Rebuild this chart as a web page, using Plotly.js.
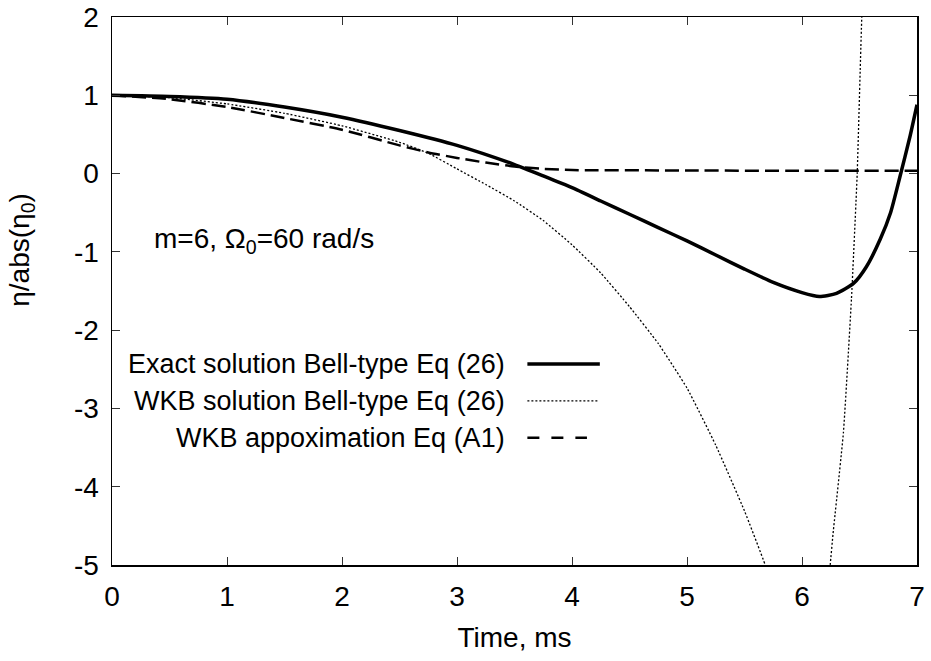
<!DOCTYPE html>
<html>
<head>
<meta charset="utf-8">
<script src="https://cdn.plot.ly/plotly-3.0.1.min.js"></script>
<style>html,body{margin:0;padding:0;background:#fff;}#chart{width:931px;height:661px;}</style>
</head>
<body>
<div id="chart"></div>
<script>
// Exact solution Bell-type Eq (26)
const exactT = [0, 0.5, 1.0, 1.5, 2.0, 2.5, 3.0, 3.5, 3.75, 4.0, 4.25, 4.5, 4.75, 5.0, 5.25, 5.5, 5.75, 6.0, 6.15, 6.3, 6.45, 6.56, 6.68, 6.77, 6.85, 6.94, 7.0];
const exactY = [1.0, 0.985, 0.95, 0.85, 0.72, 0.55, 0.36, 0.115, -0.03, -0.18, -0.35, -0.52, -0.69, -0.86, -1.04, -1.22, -1.39, -1.52, -1.57, -1.53, -1.40, -1.19, -0.84, -0.50, -0.05, 0.48, 0.88];

// WKB solution Bell-type Eq (26)
const wkbT = [0, 0.5, 1.0, 1.5, 2.0, 2.5, 2.75, 3.0, 3.25, 3.5, 3.75, 4.0, 4.25, 4.5, 4.75, 5.0, 5.25, 5.5, 5.68, 5.75, 6.2, 6.245, 6.27, 6.36, 6.43, 6.48, 6.52, 6.54];
const wkbY = [1.0, 0.97, 0.89, 0.77, 0.61, 0.40, 0.26, 0.06, -0.14, -0.35, -0.60, -0.91, -1.27, -1.70, -2.17, -2.74, -3.47, -4.31, -5.0, -5.35, -5.6, -5.0, -4.6, -3.31, -1.6, 0.0, 2.0, 2.5];

// WKB appoximation Eq (A1)
const apprT = [0, 0.5, 1.0, 1.5, 2.0, 2.5, 2.75, 3.0, 3.25, 3.5, 3.75, 4.0, 5.0, 6.0, 7.0];
const apprY = [1.0, 0.95, 0.85, 0.71, 0.56, 0.36, 0.27, 0.20, 0.14, 0.09, 0.06, 0.045, 0.04, 0.035, 0.035];

const xTicks = [0, 1, 2, 3, 4, 5, 6, 7];
const yTicks = [-5, -4, -3, -2, -1, 0, 1, 2];

const legendNames = ['Exact solution Bell-type Eq (26)', 'WKB solution Bell-type Eq (26)', 'WKB appoximation Eq (A1)'];
const lineStyles = [
  {color: '#000', width: 3.5, dash: 'solid'},
  {color: '#000', width: 1.3, dash: '2px,2px'},
  {color: '#000', width: 2.5, dash: '14px,6px'}
];
const keyStyles = [
  {color: '#000', width: 3.5, dash: 'solid'},
  {color: '#000', width: 1.3, dash: '2px,2px'},
  {color: '#000', width: 2.5, dash: '12px,12px'}
];
const keyEnd = [0.606, 0.603, 0.590];

const FONT = 'Liberation Sans, Arial, Helvetica, sans-serif';

const traces = [
  {x: exactT, y: exactY, name: legendNames[0], mode: 'lines', line: Object.assign({shape: 'spline', smoothing: 0.6}, lineStyles[0])},
  {x: wkbT, y: wkbY, name: legendNames[1], mode: 'lines', line: Object.assign({shape: 'spline', smoothing: 0.4}, lineStyles[1])},
  {x: apprT, y: apprY, name: legendNames[2], mode: 'lines', line: Object.assign({shape: 'spline', smoothing: 0.6}, lineStyles[2])}
];

// manual gnuplot-style key: right-aligned text, line sample to its right
const legY = [0.367, 0.2995, 0.232];
const annotations = legendNames.map((n, i) => ({
  xref: 'paper', yref: 'paper', x: 0.491, y: legY[i],
  xanchor: 'right', yanchor: 'middle', text: n, showarrow: false,
  font: {family: FONT, size: 27, color: '#000'}
}));
annotations.push({
  xref: 'paper', yref: 'paper', x: 0.050, y: 0.593,
  xanchor: 'left', yanchor: 'middle', showarrow: false,
  text: 'm=6, Ω<sub>0</sub>=60 rad/s',
  font: {family: FONT, size: 28, color: '#000'}
});
annotations.push({
  xref: 'paper', yref: 'paper', x: -0.112, y: 0.575,
  xanchor: 'center', yanchor: 'middle', showarrow: false, textangle: -90,
  text: 'η/abs(η<sub>0</sub>)',
  font: {family: FONT, size: 28, color: '#000'}
});
const shapes = keyStyles.map((s, i) => ({
  type: 'line', xref: 'paper', yref: 'paper',
  x0: 0.516, x1: keyEnd[i], y0: legY[i], y1: legY[i],
  line: {color: s.color, width: s.width, dash: s.dash}
}));

const layout = {
  width: 931, height: 661,
  margin: {l: 112, r: 14, t: 17, b: 96},
  paper_bgcolor: '#fff', plot_bgcolor: '#fff',
  showlegend: false,
  font: {family: FONT, size: 28, color: '#000'},
  xaxis: {
    range: [0, 7], tickvals: xTicks, ticktext: xTicks.map(String),
    ticks: 'inside', ticklen: 8, tickwidth: 1, tickcolor: '#333',
    showline: true, linecolor: '#000', linewidth: 1.5, mirror: 'allticks',
    showgrid: false, zeroline: false, ticklabelstandoff: 6,
    title: {text: 'Time, ms', font: {family: FONT, size: 28}, standoff: 16},
    tickfont: {family: FONT, size: 28}
  },
  yaxis: {
    range: [-5, 2], tickvals: yTicks, ticktext: yTicks.map(String),
    ticks: 'inside', ticklen: 8, tickwidth: 1, tickcolor: '#333',
    showline: true, linecolor: '#000', linewidth: 1.5, mirror: 'allticks',
    showgrid: false, zeroline: false, ticklabelstandoff: 6,
    tickfont: {family: FONT, size: 28}
  },
  annotations: annotations,
  shapes: shapes
};

Plotly.newPlot('chart', traces, layout, {displayModeBar: false, staticPlot: true});
</script>
</body>
</html>
